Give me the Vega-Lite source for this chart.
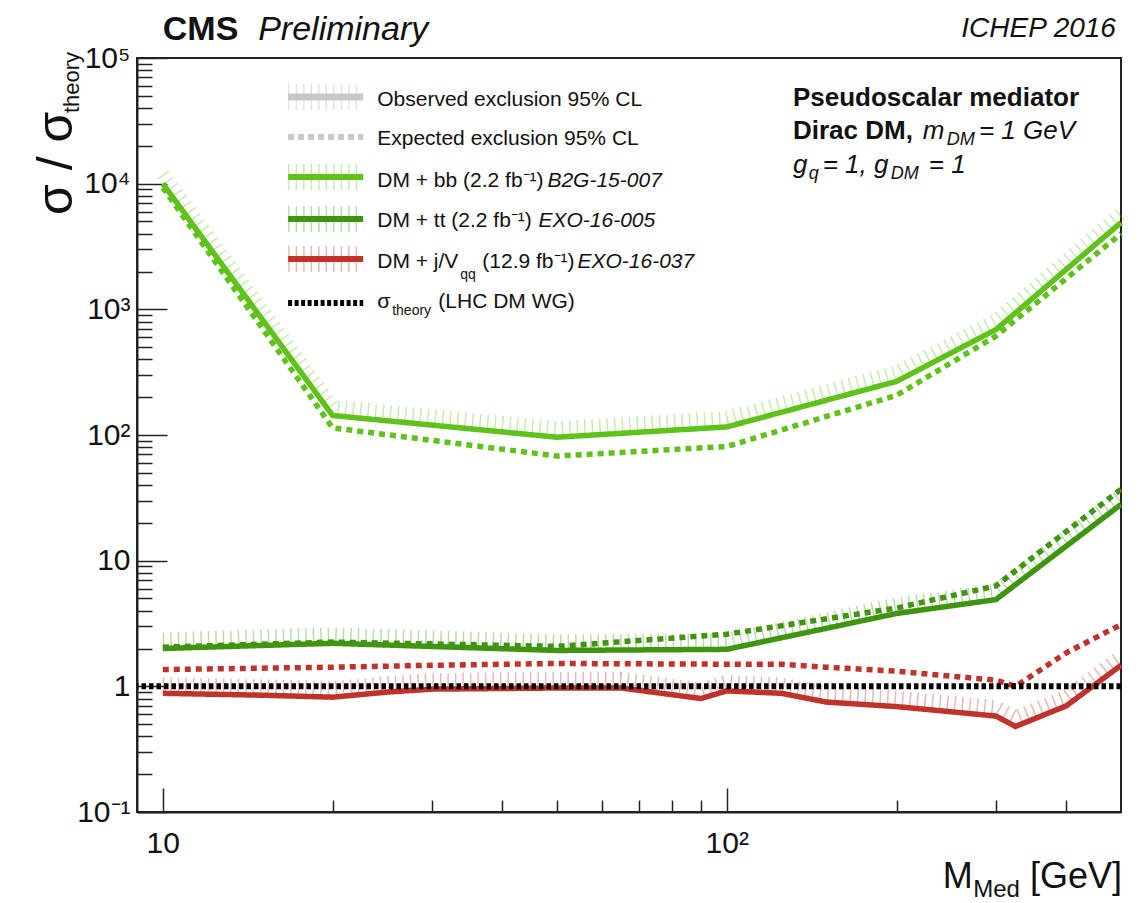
{
  "$schema": "https://vega.github.io/schema/vega-lite/v6.json",
  "width": 984,
  "height": 754,
  "autosize": {"type": "none"},
  "padding": {"left": 137, "top": 58, "right": 25, "bottom": 91},
  "background": "white",
  "config": {
    "font": "Liberation Sans",
    "view": {"stroke": "#222", "strokeWidth": 2},
    "text": {"font": "Liberation Sans", "fill": "#111"}
  },
  "resolve": {"axis": {"x": "independent", "y": "independent"}},
  "datasets": {
    "limits": [
      {"a": "bb", "k": "obs", "m": 10, "r": 10000},
      {"a": "bb", "k": "obs", "m": 20, "r": 143},
      {"a": "bb", "k": "obs", "m": 50, "r": 96},
      {"a": "bb", "k": "obs", "m": 100, "r": 116},
      {"a": "bb", "k": "obs", "m": 200, "r": 267},
      {"a": "bb", "k": "obs", "m": 300, "r": 690},
      {"a": "bb", "k": "obs", "m": 500, "r": 4900},
      {"a": "bb", "k": "exp", "m": 10, "r": 9300},
      {"a": "bb", "k": "exp", "m": 20, "r": 114},
      {"a": "bb", "k": "exp", "m": 50, "r": 68},
      {"a": "bb", "k": "exp", "m": 100, "r": 81},
      {"a": "bb", "k": "exp", "m": 200, "r": 207},
      {"a": "bb", "k": "exp", "m": 300, "r": 612},
      {"a": "bb", "k": "exp", "m": 500, "r": 4000},
      {"a": "tt", "k": "obs", "m": 10, "r": 2.0},
      {"a": "tt", "k": "obs", "m": 20, "r": 2.2},
      {"a": "tt", "k": "obs", "m": 50, "r": 1.93},
      {"a": "tt", "k": "obs", "m": 100, "r": 1.97},
      {"a": "tt", "k": "obs", "m": 200, "r": 3.8},
      {"a": "tt", "k": "obs", "m": 300, "r": 4.9},
      {"a": "tt", "k": "obs", "m": 500, "r": 28},
      {"a": "tt", "k": "exp", "m": 10, "r": 2.05},
      {"a": "tt", "k": "exp", "m": 20, "r": 2.25},
      {"a": "tt", "k": "exp", "m": 50, "r": 2.08},
      {"a": "tt", "k": "exp", "m": 100, "r": 2.6},
      {"a": "tt", "k": "exp", "m": 200, "r": 4.2},
      {"a": "tt", "k": "exp", "m": 300, "r": 6.3},
      {"a": "tt", "k": "exp", "m": 500, "r": 37},
      {"a": "jV", "k": "obs", "m": 10, "r": 0.88},
      {"a": "jV", "k": "obs", "m": 15, "r": 0.85},
      {"a": "jV", "k": "obs", "m": 20, "r": 0.82},
      {"a": "jV", "k": "obs", "m": 25, "r": 0.9},
      {"a": "jV", "k": "obs", "m": 30, "r": 0.95},
      {"a": "jV", "k": "obs", "m": 50, "r": 0.97},
      {"a": "jV", "k": "obs", "m": 65, "r": 0.97},
      {"a": "jV", "k": "obs", "m": 90, "r": 0.8},
      {"a": "jV", "k": "obs", "m": 100, "r": 0.92},
      {"a": "jV", "k": "obs", "m": 125, "r": 0.88},
      {"a": "jV", "k": "obs", "m": 150, "r": 0.75},
      {"a": "jV", "k": "obs", "m": 200, "r": 0.69},
      {"a": "jV", "k": "obs", "m": 300, "r": 0.58},
      {"a": "jV", "k": "obs", "m": 325, "r": 0.48},
      {"a": "jV", "k": "obs", "m": 400, "r": 0.7},
      {"a": "jV", "k": "obs", "m": 500, "r": 1.47},
      {"a": "jV", "k": "exp", "m": 10, "r": 1.36},
      {"a": "jV", "k": "exp", "m": 20, "r": 1.42},
      {"a": "jV", "k": "exp", "m": 30, "r": 1.47},
      {"a": "jV", "k": "exp", "m": 50, "r": 1.52},
      {"a": "jV", "k": "exp", "m": 100, "r": 1.5},
      {"a": "jV", "k": "exp", "m": 125, "r": 1.5},
      {"a": "jV", "k": "exp", "m": 150, "r": 1.42},
      {"a": "jV", "k": "exp", "m": 200, "r": 1.32},
      {"a": "jV", "k": "exp", "m": 300, "r": 1.12},
      {"a": "jV", "k": "exp", "m": 325, "r": 1.0},
      {"a": "jV", "k": "exp", "m": 400, "r": 1.85},
      {"a": "jV", "k": "exp", "m": 500, "r": 3.1}
    ],
    "one": [{}]
  },
  "layer": [
    {
      "data": {"name": "limits"},
      "transform": [{"filter": "datum.k == 'obs'"}],
      "mark": {"type": "line", "strokeWidth": 14, "strokeDash": [1.5, 6], "opacity": 0.35, "yOffset": -9, "strokeCap": "butt"},
      "encoding": {
        "x": {"field": "m", "type": "quantitative", "scale": {"type": "log", "domain": [9, 500], "nice": false},
          "axis": {"orient": "bottom", "values": [20, 30, 40, 50, 60, 70, 80, 90, 200, 300, 400], "tickSize": -12, "labels": false, "domain": false, "title": null, "grid": false, "tickColor": "#222", "tickWidth": 1.5}
        },
        "y": {"field": "r", "type": "quantitative", "scale": {"type": "log", "domain": [0.1, 100000], "nice": false},
          "axis": {"orient": "left", "values": [0.2, 0.3, 0.4, 0.5, 0.6, 0.7, 0.8, 0.9, 2, 3, 4, 5, 6, 7, 8, 9, 20, 30, 40, 50, 60, 70, 80, 90, 200, 300, 400, 500, 600, 700, 800, 900, 2000, 3000, 4000, 5000, 6000, 7000, 8000, 9000, 20000, 30000, 40000, 50000, 60000, 70000, 80000, 90000], "tickSize": -15, "labels": false, "domain": false, "title": null, "grid": false, "tickColor": "#222", "tickWidth": 1.5}
        },
        "color": {"field": "a", "type": "nominal", "scale": {"domain": ["bb", "tt", "jV"], "range": ["#5fc21b", "#3f9410", "#c0332b"]}, "legend": null},
        "detail": {"field": "k"}
      }
    },
    {
      "data": {"name": "limits"},
      "mark": {"type": "line", "strokeWidth": 5.5},
      "encoding": {
        "x": {"field": "m", "type": "quantitative", "scale": {"type": "log", "domain": [9, 500], "nice": false},
          "axis": {
            "orient": "bottom",
            "values": [10, 100],
            "labelExpr": "datum.value == 10 ? '10' : '10²'",
            "tickSize": -24,
            "labelPadding": 40,
            "labelFontSize": 30,
            "labelFont": "Liberation Sans",
            "labelColor": "#111",
            "labelFlush": false,
            "labelOverlap": false,
            "labelBound": false,
            "title": null,
            "grid": false,
            "domainColor": "#222",
            "domainWidth": 2,
            "tickColor": "#222",
            "tickWidth": 1.5
          }
        },
        "y": {"field": "r", "type": "quantitative", "scale": {"type": "log", "domain": [0.1, 100000], "nice": false},
          "axis": {
            "orient": "left",
            "values": [0.1, 1, 10, 100, 1000, 10000, 100000],
            "labelExpr": "datum.value < 0.5 ? '10⁻¹' : datum.value < 5 ? '1' : datum.value < 50 ? '10' : datum.value < 500 ? '10²' : datum.value < 5000 ? '10³' : datum.value < 50000 ? '10⁴' : '10⁵'",
            "tickSize": -30,
            "labelPadding": 37,
            "labelFontSize": 30,
            "labelFont": "Liberation Sans",
            "labelColor": "#111",
            "labelFlush": false,
            "labelOverlap": false,
            "labelBound": false,
            "title": null,
            "grid": false,
            "domainColor": "#222",
            "domainWidth": 2,
            "tickColor": "#222",
            "tickWidth": 1.5
          }
        },
        "color": {"field": "a", "type": "nominal", "scale": {"domain": ["bb", "tt", "jV"], "range": ["#5fc21b", "#3f9410", "#c0332b"]}, "legend": null},
        "strokeDash": {"field": "k", "type": "nominal", "scale": {"domain": ["obs", "exp"], "range": [[1, 0], [6, 5]]}, "legend": null}
      }
    },
    {
      "data": {"name": "one"},
      "mark": {"type": "rule", "color": "#000", "strokeWidth": 6, "strokeDash": [4.5, 3]},
      "encoding": {
        "y": {"datum": 1, "type": "quantitative", "scale": {"type": "log", "domain": [0.1, 100000], "nice": false}, "axis": null}
      }
    },
    {
      "data": {"name": "one"},
      "mark": {"type": "rule", "color": "#b0b0b0", "strokeWidth": 26, "strokeDash": [1.5, 6], "opacity": 0.35},
      "encoding": {
        "x": {"datum": 16.68, "type": "quantitative", "scale": {"type": "log", "domain": [9, 500], "nice": false}, "axis": null},
        "x2": {"datum": 22.66},
        "y": {"datum": 48910, "type": "quantitative", "scale": {"type": "log", "domain": [0.1, 100000], "nice": false}, "axis": null}
      }
    },
    {
      "data": {"name": "one"},
      "mark": {"type": "rule", "color": "#c8c8c8", "strokeWidth": 7},
      "encoding": {
        "x": {"datum": 16.68, "type": "quantitative", "scale": {"type": "log", "domain": [9, 500], "nice": false}, "axis": null},
        "x2": {"datum": 22.66},
        "y": {"datum": 48910, "type": "quantitative", "scale": {"type": "log", "domain": [0.1, 100000], "nice": false}, "axis": null}
      }
    },
    {
      "data": {"name": "one"},
      "mark": {"type": "rule", "color": "#c8c8c8", "strokeWidth": 6, "strokeDash": [6, 4]},
      "encoding": {
        "x": {"datum": 16.68, "type": "quantitative", "scale": {"type": "log", "domain": [9, 500], "nice": false}, "axis": null},
        "x2": {"datum": 22.66},
        "y": {"datum": 23500, "type": "quantitative", "scale": {"type": "log", "domain": [0.1, 100000], "nice": false}, "axis": null}
      }
    },
    {
      "data": {"name": "one"},
      "mark": {"type": "rule", "color": "#5fc21b", "strokeWidth": 26, "strokeDash": [1.5, 6], "opacity": 0.35},
      "encoding": {
        "x": {"datum": 16.68, "type": "quantitative", "scale": {"type": "log", "domain": [9, 500], "nice": false}, "axis": null},
        "x2": {"datum": 22.66},
        "y": {"datum": 11290, "type": "quantitative", "scale": {"type": "log", "domain": [0.1, 100000], "nice": false}, "axis": null}
      }
    },
    {
      "data": {"name": "one"},
      "mark": {"type": "rule", "color": "#5fc21b", "strokeWidth": 6},
      "encoding": {
        "x": {"datum": 16.68, "type": "quantitative", "scale": {"type": "log", "domain": [9, 500], "nice": false}, "axis": null},
        "x2": {"datum": 22.66},
        "y": {"datum": 11290, "type": "quantitative", "scale": {"type": "log", "domain": [0.1, 100000], "nice": false}, "axis": null}
      }
    },
    {
      "data": {"name": "one"},
      "mark": {"type": "rule", "color": "#3f9410", "strokeWidth": 26, "strokeDash": [1.5, 6], "opacity": 0.35},
      "encoding": {
        "x": {"datum": 16.68, "type": "quantitative", "scale": {"type": "log", "domain": [9, 500], "nice": false}, "axis": null},
        "x2": {"datum": 22.66},
        "y": {"datum": 5230, "type": "quantitative", "scale": {"type": "log", "domain": [0.1, 100000], "nice": false}, "axis": null}
      }
    },
    {
      "data": {"name": "one"},
      "mark": {"type": "rule", "color": "#3f9410", "strokeWidth": 6},
      "encoding": {
        "x": {"datum": 16.68, "type": "quantitative", "scale": {"type": "log", "domain": [9, 500], "nice": false}, "axis": null},
        "x2": {"datum": 22.66},
        "y": {"datum": 5230, "type": "quantitative", "scale": {"type": "log", "domain": [0.1, 100000], "nice": false}, "axis": null}
      }
    },
    {
      "data": {"name": "one"},
      "mark": {"type": "rule", "color": "#c0332b", "strokeWidth": 26, "strokeDash": [1.5, 6], "opacity": 0.35},
      "encoding": {
        "x": {"datum": 16.68, "type": "quantitative", "scale": {"type": "log", "domain": [9, 500], "nice": false}, "axis": null},
        "x2": {"datum": 22.66},
        "y": {"datum": 2513, "type": "quantitative", "scale": {"type": "log", "domain": [0.1, 100000], "nice": false}, "axis": null}
      }
    },
    {
      "data": {"name": "one"},
      "mark": {"type": "rule", "color": "#c0332b", "strokeWidth": 6},
      "encoding": {
        "x": {"datum": 16.68, "type": "quantitative", "scale": {"type": "log", "domain": [9, 500], "nice": false}, "axis": null},
        "x2": {"datum": 22.66},
        "y": {"datum": 2513, "type": "quantitative", "scale": {"type": "log", "domain": [0.1, 100000], "nice": false}, "axis": null}
      }
    },
    {
      "data": {"name": "one"},
      "mark": {"type": "rule", "color": "#000", "strokeWidth": 6, "strokeDash": [4, 2.5]},
      "encoding": {
        "x": {"datum": 16.68, "type": "quantitative", "scale": {"type": "log", "domain": [9, 500], "nice": false}, "axis": null},
        "x2": {"datum": 22.66},
        "y": {"datum": 1122, "type": "quantitative", "scale": {"type": "log", "domain": [0.1, 100000], "nice": false}, "axis": null}
      }
    },
    {"data": {"name": "one"}, "mark": {"type": "text", "text": "Observed exclusion 95% CL", "align": "left", "baseline": "alphabetic", "fontSize": 21},
      "encoding": {"x": {"datum": 24.0, "type": "quantitative", "scale": {"type": "log", "domain": [9, 500], "nice": false}, "axis": null}, "y": {"datum": 41470, "type": "quantitative", "scale": {"type": "log", "domain": [0.1, 100000], "nice": false}, "axis": null}}},
    {"data": {"name": "one"}, "mark": {"type": "text", "text": "Expected exclusion 95% CL", "align": "left", "baseline": "alphabetic", "fontSize": 21},
      "encoding": {"x": {"datum": 24.0, "type": "quantitative", "scale": {"type": "log", "domain": [9, 500], "nice": false}, "axis": null}, "y": {"datum": 20290, "type": "quantitative", "scale": {"type": "log", "domain": [0.1, 100000], "nice": false}, "axis": null}}},
    {"data": {"name": "one"}, "mark": {"type": "text", "text": "DM + bb (2.2 fb⁻¹)", "align": "left", "baseline": "alphabetic", "fontSize": 21},
      "encoding": {"x": {"datum": 24.0, "type": "quantitative", "scale": {"type": "log", "domain": [9, 500], "nice": false}, "axis": null}, "y": {"datum": 9400, "type": "quantitative", "scale": {"type": "log", "domain": [0.1, 100000], "nice": false}, "axis": null}}},
    {"data": {"name": "one"}, "mark": {"type": "text", "text": "B2G-15-007", "align": "left", "baseline": "alphabetic", "fontSize": 21, "fontStyle": "italic"},
      "encoding": {"x": {"datum": 48.08, "type": "quantitative", "scale": {"type": "log", "domain": [9, 500], "nice": false}, "axis": null}, "y": {"datum": 9400, "type": "quantitative", "scale": {"type": "log", "domain": [0.1, 100000], "nice": false}, "axis": null}}},
    {"data": {"name": "one"}, "mark": {"type": "text", "text": "DM + tt (2.2 fb⁻¹)", "align": "left", "baseline": "alphabetic", "fontSize": 21},
      "encoding": {"x": {"datum": 24.0, "type": "quantitative", "scale": {"type": "log", "domain": [9, 500], "nice": false}, "axis": null}, "y": {"datum": 4515, "type": "quantitative", "scale": {"type": "log", "domain": [0.1, 100000], "nice": false}, "axis": null}}},
    {"data": {"name": "one"}, "mark": {"type": "text", "text": "EXO-16-005", "align": "left", "baseline": "alphabetic", "fontSize": 21, "fontStyle": "italic"},
      "encoding": {"x": {"datum": 46.35, "type": "quantitative", "scale": {"type": "log", "domain": [9, 500], "nice": false}, "axis": null}, "y": {"datum": 4515, "type": "quantitative", "scale": {"type": "log", "domain": [0.1, 100000], "nice": false}, "axis": null}}},
    {"data": {"name": "one"}, "mark": {"type": "text", "text": "DM + j/V", "align": "left", "baseline": "alphabetic", "fontSize": 21},
      "encoding": {"x": {"datum": 24.0, "type": "quantitative", "scale": {"type": "log", "domain": [9, 500], "nice": false}, "axis": null}, "y": {"datum": 2131, "type": "quantitative", "scale": {"type": "log", "domain": [0.1, 100000], "nice": false}, "axis": null}}},
    {"data": {"name": "one"}, "mark": {"type": "text", "text": "qq", "align": "left", "baseline": "alphabetic", "fontSize": 14},
      "encoding": {"x": {"datum": 33.69, "type": "quantitative", "scale": {"type": "log", "domain": [9, 500], "nice": false}, "axis": null}, "y": {"datum": 1742, "type": "quantitative", "scale": {"type": "log", "domain": [0.1, 100000], "nice": false}, "axis": null}}},
    {"data": {"name": "one"}, "mark": {"type": "text", "text": "(12.9 fb⁻¹)", "align": "left", "baseline": "alphabetic", "fontSize": 21},
      "encoding": {"x": {"datum": 36.86, "type": "quantitative", "scale": {"type": "log", "domain": [9, 500], "nice": false}, "axis": null}, "y": {"datum": 2131, "type": "quantitative", "scale": {"type": "log", "domain": [0.1, 100000], "nice": false}, "axis": null}}},
    {"data": {"name": "one"}, "mark": {"type": "text", "text": "EXO-16-037", "align": "left", "baseline": "alphabetic", "fontSize": 21, "fontStyle": "italic"},
      "encoding": {"x": {"datum": 54.35, "type": "quantitative", "scale": {"type": "log", "domain": [9, 500], "nice": false}, "axis": null}, "y": {"datum": 2131, "type": "quantitative", "scale": {"type": "log", "domain": [0.1, 100000], "nice": false}, "axis": null}}},
    {"data": {"name": "one"}, "mark": {"type": "text", "text": "σ", "align": "left", "baseline": "alphabetic", "fontSize": 21},
      "encoding": {"x": {"datum": 24.0, "type": "quantitative", "scale": {"type": "log", "domain": [9, 500], "nice": false}, "axis": null}, "y": {"datum": 1024, "type": "quantitative", "scale": {"type": "log", "domain": [0.1, 100000], "nice": false}, "axis": null}}},
    {"data": {"name": "one"}, "mark": {"type": "text", "text": "theory", "align": "left", "baseline": "alphabetic", "fontSize": 14},
      "encoding": {"x": {"datum": 25.51, "type": "quantitative", "scale": {"type": "log", "domain": [9, 500], "nice": false}, "axis": null}, "y": {"datum": 900, "type": "quantitative", "scale": {"type": "log", "domain": [0.1, 100000], "nice": false}, "axis": null}}},
    {"data": {"name": "one"}, "mark": {"type": "text", "text": "(LHC DM WG)", "align": "left", "baseline": "alphabetic", "fontSize": 21},
      "encoding": {"x": {"datum": 30.8, "type": "quantitative", "scale": {"type": "log", "domain": [9, 500], "nice": false}, "axis": null}, "y": {"datum": 1024, "type": "quantitative", "scale": {"type": "log", "domain": [0.1, 100000], "nice": false}, "axis": null}}},
    {"data": {"name": "one"}, "mark": {"type": "text", "text": "Pseudoscalar mediator", "align": "left", "baseline": "alphabetic", "fontSize": 26, "fontWeight": "bold"},
      "encoding": {"x": {"datum": 131, "type": "quantitative", "scale": {"type": "log", "domain": [9, 500], "nice": false}, "axis": null}, "y": {"datum": 41470, "type": "quantitative", "scale": {"type": "log", "domain": [0.1, 100000], "nice": false}, "axis": null}}},
    {"data": {"name": "one"}, "mark": {"type": "text", "text": "Dirac DM,", "align": "left", "baseline": "alphabetic", "fontSize": 26, "fontWeight": "bold"},
      "encoding": {"x": {"datum": 131, "type": "quantitative", "scale": {"type": "log", "domain": [9, 500], "nice": false}, "axis": null}, "y": {"datum": 22650, "type": "quantitative", "scale": {"type": "log", "domain": [0.1, 100000], "nice": false}, "axis": null}}},
    {"data": {"name": "one"}, "mark": {"type": "text", "text": "m", "align": "left", "baseline": "alphabetic", "fontSize": 26, "fontStyle": "italic"},
      "encoding": {"x": {"datum": 222.6, "type": "quantitative", "scale": {"type": "log", "domain": [9, 500], "nice": false}, "axis": null}, "y": {"datum": 22650, "type": "quantitative", "scale": {"type": "log", "domain": [0.1, 100000], "nice": false}, "axis": null}}},
    {"data": {"name": "one"}, "mark": {"type": "text", "text": "DM", "align": "left", "baseline": "alphabetic", "fontSize": 18, "fontStyle": "italic"},
      "encoding": {"x": {"datum": 245.5, "type": "quantitative", "scale": {"type": "log", "domain": [9, 500], "nice": false}, "axis": null}, "y": {"datum": 20290, "type": "quantitative", "scale": {"type": "log", "domain": [0.1, 100000], "nice": false}, "axis": null}}},
    {"data": {"name": "one"}, "mark": {"type": "text", "text": "= 1 GeV", "align": "left", "baseline": "alphabetic", "fontSize": 26, "fontStyle": "italic"},
      "encoding": {"x": {"datum": 279.9, "type": "quantitative", "scale": {"type": "log", "domain": [9, 500], "nice": false}, "axis": null}, "y": {"datum": 22650, "type": "quantitative", "scale": {"type": "log", "domain": [0.1, 100000], "nice": false}, "axis": null}}},
    {"data": {"name": "one"}, "mark": {"type": "text", "text": "g", "align": "left", "baseline": "alphabetic", "fontSize": 26, "fontStyle": "italic"},
      "encoding": {"x": {"datum": 131, "type": "quantitative", "scale": {"type": "log", "domain": [9, 500], "nice": false}, "axis": null}, "y": {"datum": 12150, "type": "quantitative", "scale": {"type": "log", "domain": [0.1, 100000], "nice": false}, "axis": null}}},
    {"data": {"name": "one"}, "mark": {"type": "text", "text": "q", "align": "left", "baseline": "alphabetic", "fontSize": 18, "fontStyle": "italic"},
      "encoding": {"x": {"datum": 139.7, "type": "quantitative", "scale": {"type": "log", "domain": [9, 500], "nice": false}, "axis": null}, "y": {"datum": 10880, "type": "quantitative", "scale": {"type": "log", "domain": [0.1, 100000], "nice": false}, "axis": null}}},
    {"data": {"name": "one"}, "mark": {"type": "text", "text": "= 1, g", "align": "left", "baseline": "alphabetic", "fontSize": 26, "fontStyle": "italic"},
      "encoding": {"x": {"datum": 147.9, "type": "quantitative", "scale": {"type": "log", "domain": [9, 500], "nice": false}, "axis": null}, "y": {"datum": 12150, "type": "quantitative", "scale": {"type": "log", "domain": [0.1, 100000], "nice": false}, "axis": null}}},
    {"data": {"name": "one"}, "mark": {"type": "text", "text": "DM", "align": "left", "baseline": "alphabetic", "fontSize": 18, "fontStyle": "italic"},
      "encoding": {"x": {"datum": 195.3, "type": "quantitative", "scale": {"type": "log", "domain": [9, 500], "nice": false}, "axis": null}, "y": {"datum": 10880, "type": "quantitative", "scale": {"type": "log", "domain": [0.1, 100000], "nice": false}, "axis": null}}},
    {"data": {"name": "one"}, "mark": {"type": "text", "text": "= 1", "align": "left", "baseline": "alphabetic", "fontSize": 26, "fontStyle": "italic"},
      "encoding": {"x": {"datum": 228.1, "type": "quantitative", "scale": {"type": "log", "domain": [9, 500], "nice": false}, "axis": null}, "y": {"datum": 12150, "type": "quantitative", "scale": {"type": "log", "domain": [0.1, 100000], "nice": false}, "axis": null}}},
    {"data": {"name": "one"}, "mark": {"type": "text", "text": "CMS", "align": "left", "baseline": "alphabetic", "fontSize": 34, "fontWeight": "bold"},
      "encoding": {"x": {"datum": 10, "type": "quantitative", "scale": {"type": "log", "domain": [9, 500], "nice": false}, "axis": null}, "y": {"datum": 138950, "type": "quantitative", "scale": {"type": "log", "domain": [0.1, 100000], "nice": false}, "axis": null}}},
    {"data": {"name": "one"}, "mark": {"type": "text", "text": "Preliminary", "align": "left", "baseline": "alphabetic", "fontSize": 34, "fontStyle": "italic"},
      "encoding": {"x": {"datum": 14.76, "type": "quantitative", "scale": {"type": "log", "domain": [9, 500], "nice": false}, "axis": null}, "y": {"datum": 138950, "type": "quantitative", "scale": {"type": "log", "domain": [0.1, 100000], "nice": false}, "axis": null}}},
    {"data": {"name": "one"}, "mark": {"type": "text", "text": "ICHEP 2016", "align": "right", "baseline": "alphabetic", "fontSize": 28, "fontStyle": "italic"},
      "encoding": {"x": {"datum": 489.8, "type": "quantitative", "scale": {"type": "log", "domain": [9, 500], "nice": false}, "axis": null}, "y": {"datum": 146800, "type": "quantitative", "scale": {"type": "log", "domain": [0.1, 100000], "nice": false}, "axis": null}}},
    {"data": {"name": "one"}, "mark": {"type": "text", "text": "M", "align": "right", "baseline": "alphabetic", "fontSize": 36},
      "encoding": {"x": {"datum": 273.1, "type": "quantitative", "scale": {"type": "log", "domain": [9, 500], "nice": false}, "axis": null}, "y": {"datum": 0.02483, "type": "quantitative", "scale": {"type": "log", "domain": [0.1, 100000], "nice": false}, "axis": null}}},
    {"data": {"name": "one"}, "mark": {"type": "text", "text": "Med", "align": "right", "baseline": "alphabetic", "fontSize": 24},
      "encoding": {"x": {"datum": 330.9, "type": "quantitative", "scale": {"type": "log", "domain": [9, 500], "nice": false}, "axis": null}, "y": {"datum": 0.02106, "type": "quantitative", "scale": {"type": "log", "domain": [0.1, 100000], "nice": false}, "axis": null}}},
    {"data": {"name": "one"}, "mark": {"type": "text", "text": "[GeV]", "align": "right", "baseline": "alphabetic", "fontSize": 36},
      "encoding": {"x": {"datum": 502, "type": "quantitative", "scale": {"type": "log", "domain": [9, 500], "nice": false}, "axis": null}, "y": {"datum": 0.02483, "type": "quantitative", "scale": {"type": "log", "domain": [0.1, 100000], "nice": false}, "axis": null}}},
    {"data": {"name": "one"}, "mark": {"type": "text", "text": "σ / σ", "align": "left", "baseline": "alphabetic", "fontSize": 50, "angle": 270},
      "encoding": {"x": {"datum": 6.902, "type": "quantitative", "scale": {"type": "log", "domain": [9, 500], "nice": false}, "axis": null}, "y": {"datum": 5627, "type": "quantitative", "scale": {"type": "log", "domain": [0.1, 100000], "nice": false}, "axis": null}}},
    {"data": {"name": "one"}, "mark": {"type": "text", "text": "theory", "align": "left", "baseline": "alphabetic", "fontSize": 22, "angle": 270},
      "encoding": {"x": {"datum": 7.104, "type": "quantitative", "scale": {"type": "log", "domain": [9, 500], "nice": false}, "axis": null}, "y": {"datum": 36480, "type": "quantitative", "scale": {"type": "log", "domain": [0.1, 100000], "nice": false}, "axis": null}}}
  ]
}
